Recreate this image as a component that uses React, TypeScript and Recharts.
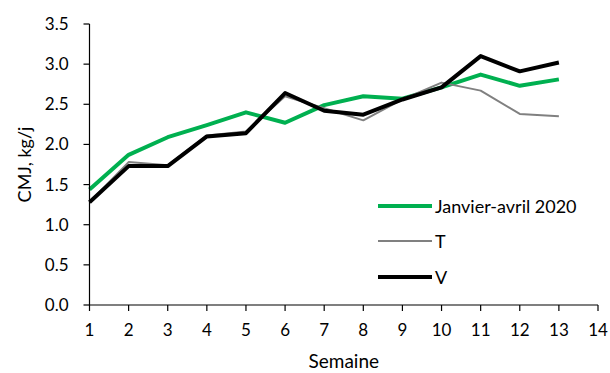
import React from 'react';
import { LineChart, Line, XAxis, YAxis, Legend } from 'recharts';

const weeks = [1, 2, 3, 4, 5, 6, 7, 8, 9, 10, 11, 12, 13];
const janAvril2020 = [1.44, 1.87, 2.09, 2.24, 2.40, 2.27, 2.49, 2.60, 2.57, 2.71, 2.87, 2.73, 2.81];
const seriesT = [1.28, 1.78, 1.74, 2.11, 2.16, 2.60, 2.45, 2.30, 2.56, 2.77, 2.67, 2.38, 2.35];
const seriesV = [1.28, 1.73, 1.73, 2.10, 2.14, 2.64, 2.42, 2.37, 2.56, 2.71, 3.10, 2.91, 3.02];
const xTicks = [1, 2, 3, 4, 5, 6, 7, 8, 9, 10, 11, 12, 13, 14];
const yTicks = [0, 0.5, 1, 1.5, 2, 2.5, 3, 3.5];

const data = weeks.map((w, i) => ({
  week: w,
  jan: janAvril2020[i],
  t: seriesT[i],
  v: seriesV[i],
}));

const FONT = 'Lato, "Open Sans", sans-serif';

const legendItems = [
  { name: 'Janvier-avril 2020', color: '#00B050', width: 4 },
  { name: 'T', color: '#808080', width: 2 },
  { name: 'V', color: '#000000', width: 4 },
];

const LegendContent = () => (
  <div style={{ fontFamily: FONT, fontSize: 18, color: '#000' }}>
    {legendItems.map((it) => (
      <div key={it.name} style={{ display: 'flex', alignItems: 'center', height: 35.5 }}>
        <svg width={59} height={10} style={{ display: 'block' }}>
          <line x1={2} y1={5} x2={56} y2={5} stroke={it.color} strokeWidth={it.width} />
        </svg>
        <span style={{ lineHeight: '20px' }}>{it.name}</span>
      </div>
    ))}
  </div>
);

export default function App() {
  return (
    <div style={{ position: 'absolute', left: 0, top: 0 }}>
      <LineChart width={610} height={373} data={data} margin={{ top: 24, right: 12, left: 0, bottom: 0 }}>
        <XAxis
          dataKey="week"
          type="number"
          domain={[1, 14]}
          ticks={xTicks}
          interval={0}
          height={68}
          tickSize={6}
          tickMargin={13}
          stroke="#000"
          strokeWidth={1.2}
          tick={{ fill: '#000', fontSize: 17, fontFamily: FONT }}
          label={{ value: 'Semaine', position: 'insideBottom', offset: 5, fill: '#000', fontSize: 19, fontFamily: FONT }}
        />
        <YAxis
          type="number"
          domain={[0, 3.5]}
          ticks={yTicks}
          interval={0}
          width={89.5}
          tickSize={6}
          tickMargin={15}
          stroke="#000"
          strokeWidth={1.2}
          tickFormatter={(v: number) => v.toFixed(1)}
          tick={{ fill: '#000', fontSize: 17, fontFamily: FONT }}
          label={{
            content: () => (
              <text
                x={24}
                y={164.5}
                transform="rotate(-90, 24, 164.5)"
                textAnchor="middle"
                dominantBaseline="central"
                fill="#000"
                fontSize={18}
                fontFamily={FONT}
              >
                CMJ, kg/j
              </text>
            ),
          }}
        />
        <Line dataKey="jan" stroke="#00B050" strokeWidth={4} dot={false} isAnimationActive={false} strokeLinejoin="round" />
        <Line dataKey="t" stroke="#808080" strokeWidth={2} dot={false} isAnimationActive={false} strokeLinejoin="round" />
        <Line dataKey="v" stroke="#000000" strokeWidth={4} dot={false} isAnimationActive={false} strokeLinejoin="round" />
        <Legend
          layout="vertical"
          align="center"
          verticalAlign="middle"
          content={<LegendContent />}
          wrapperStyle={{ position: 'absolute', left: 376, top: 188, width: 232, margin: 0 }}
        />
      </LineChart>
    </div>
  );
}
